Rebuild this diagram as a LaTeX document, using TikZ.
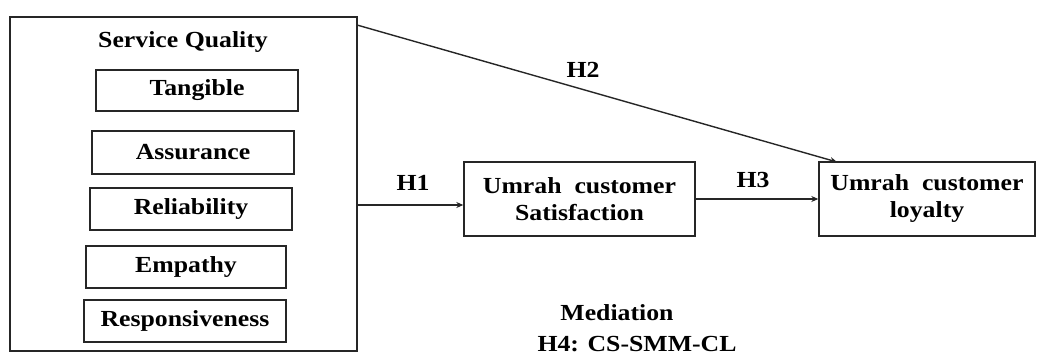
\documentclass[tikz,border=0pt]{standalone}
\usepackage{fontspec}
\setmainfont[FakeStretch=1.12]{Liberation Serif}
\usetikzlibrary{arrows.meta}
\begin{document}
\begin{tikzpicture}[x=1pt,y=-1pt,
  box/.style={draw=black!85,line width=1.4pt,inner sep=0pt,align=center,font=\fontsize{23}{27}\selectfont\bfseries},
  lbl/.style={inner sep=0pt,font=\fontsize{23}{27}\selectfont\bfseries},
  arr/.style={draw=black!85,line width=1.4pt,-{Stealth[length=7pt,width=6pt]}}]
\useasboundingbox (0,0) rectangle (1037,356);
\node[box,minimum width=347,minimum height=334] (big) at (183.5,184) {};
\node[lbl] (sq) at (183,42) {Service Quality};
\node[box,minimum width=202,minimum height=41] (tan) at (197,90.5) {Tangible};
\node[box,minimum width=202,minimum height=43] (ass) at (193,152.5) {Assurance};
\node[box,minimum width=202,minimum height=42] (rel) at (191,209) {Reliability};
\node[box,minimum width=200,minimum height=42] (emp) at (186,267) {Empathy};
\node[box,minimum width=202,minimum height=42] (res) at (185,321) {Responsiveness};
\node[box,minimum width=231,minimum height=74] (sat) at (579.5,199) {Umrah\ \ customer\\Satisfaction};
\node[box,minimum width=216,minimum height=74] (loy) at (927,199) {Umrah\ \ customer\\loyalty};
\coordinate (h1y) at (0,205);
\coordinate (h2s) at (357,25);
\coordinate (h2e) at (837,162);
\draw[arr] (big.east |- h1y) -- (sat.west |- h1y);
\draw[arr] (sat.east) -- (loy.west);
\draw[arr] (h2s) -- (h2e);
\node[lbl] (h1) at (413,183) {H1};
\node[lbl] (h2) at (583,70) {H2};
\node[lbl] (h3) at (753,180) {H3};
\node[lbl] (med) at (617,313) {Mediation};
\node[lbl] (h4) at (637,344) {H4: CS-SMM-CL};
\end{tikzpicture}
\end{document}
